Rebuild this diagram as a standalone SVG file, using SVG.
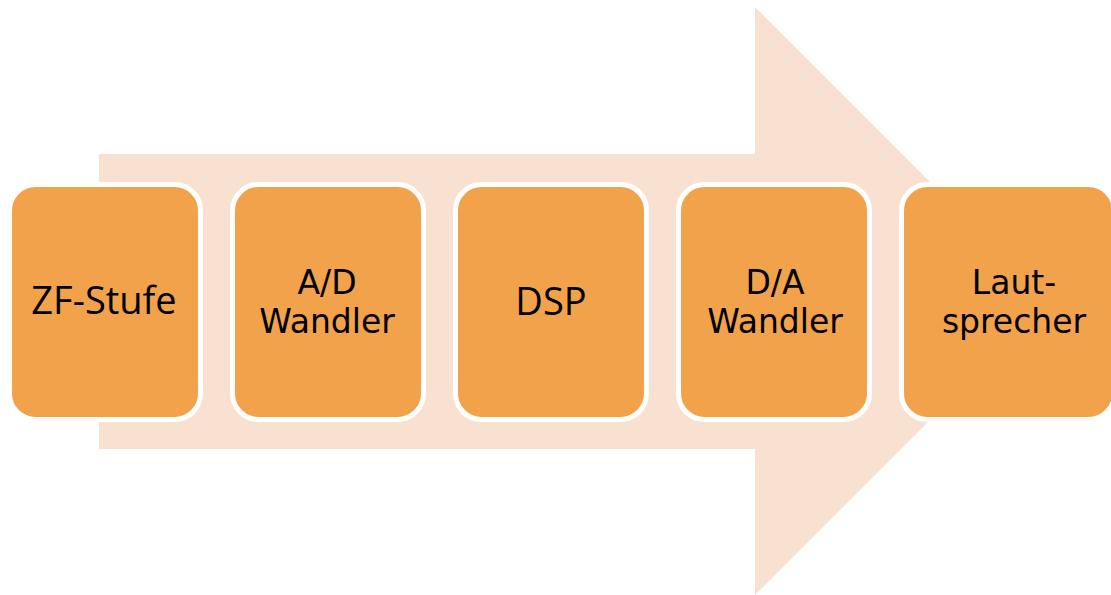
<svg xmlns="http://www.w3.org/2000/svg" width="1111" height="595" viewBox="0 0 1111 595">
  <style>
    .box { fill: #F1A24B; stroke: #FFFFFF; stroke-width: 5; }
    .lbl { font-family: "Open Sans", "Liberation Sans", sans-serif; fill: #000000; text-anchor: middle; }
    .big { font-size: 38px; }
    .two { font-family: "DejaVu Sans", "Open Sans", sans-serif; font-size: 33px; }
  </style>
  <rect width="1111" height="595" fill="#FFFFFF"/>
  <g id="arrow">
    <polygon points="99,154 755,154 755,7 1049,301 755,595 755,449 99,449" fill="#F9E1D2"/>
  </g>
  <g id="connectors"></g>
  <g id="node-zf">
    <rect class="box" x="9.5" y="184.5" width="191" height="235" rx="26"/>
    <text class="lbl big" x="104" y="314">ZF-Stufe</text>
  </g>
  <g id="node-ad">
    <rect class="box" x="232.5" y="184.5" width="191" height="235" rx="26"/>
    <text class="lbl two" x="327" y="294">A/D</text>
    <text class="lbl two" x="327" y="333">Wandler</text>
  </g>
  <g id="node-dsp">
    <rect class="box" x="455.5" y="184.5" width="191" height="235" rx="26"/>
    <text class="lbl big" x="551" y="315">DSP</text>
  </g>
  <g id="node-da">
    <rect class="box" x="678.5" y="184.5" width="191" height="235" rx="26"/>
    <text class="lbl two" x="775" y="294">D/A</text>
    <text class="lbl two" x="775" y="333">Wandler</text>
  </g>
  <g id="node-laut">
    <rect class="box" x="901.5" y="184.5" width="213" height="235" rx="26"/>
    <text class="lbl two" x="1014" y="294">Laut-</text>
    <text class="lbl two" x="1014" y="333">sprecher</text>
  </g>
</svg>
